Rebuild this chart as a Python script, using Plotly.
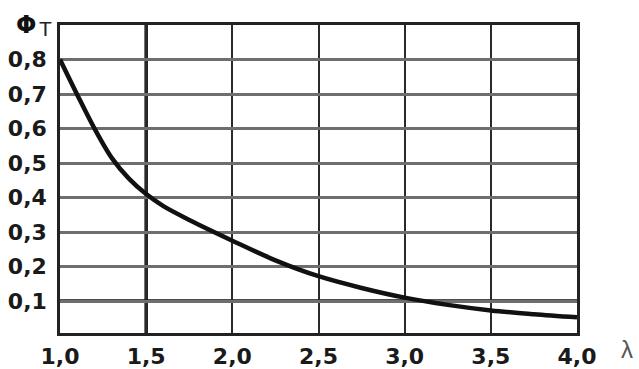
import plotly.graph_objects as go

# Curve Φ_T(λ)
lam = [1.0, 1.1, 1.2, 1.3, 1.4, 1.5, 1.6, 1.75, 2.0, 2.25, 2.5, 2.75, 3.0, 3.25, 3.5, 3.75, 4.0]
phi_t = [0.8, 0.698, 0.6, 0.515, 0.455, 0.41, 0.375, 0.335, 0.275, 0.218, 0.172, 0.138, 0.11, 0.089, 0.073, 0.062, 0.053]

# Axis ticks
x_ticks = [1.0, 1.5, 2.0, 2.5, 3.0, 3.5, 4.0]
x_labels = ["1,0", "1,5", "2,0", "2,5", "3,0", "3,5", "4,0"]
y_ticks = [0.1, 0.2, 0.3, 0.4, 0.5, 0.6, 0.7, 0.8]
y_labels = ["0,1", "0,2", "0,3", "0,4", "0,5", "0,6", "0,7", "0,8"]

# Emphasised grid lines
mark_x = [1.5]
mark_y = [0.1]

FONT = "DejaVu Sans, Arial, sans-serif"
TICK_FONT = dict(family=FONT, size=22, color="#1a1a1a", weight="bold")

fig = go.Figure()
fig.add_trace(go.Scatter(
    x=lam, y=phi_t, mode="lines",
    line=dict(color="#111111", width=4.5, shape="spline", smoothing=0.9),
    hoverinfo="skip", showlegend=False,
))

for v in mark_x:
    fig.add_vline(x=v, line=dict(color="#111111", width=3.5), layer="below")
for v in mark_y:
    fig.add_hline(y=v, line=dict(color="#111111", width=3.5), layer="below")

fig.update_xaxes(
    range=[1.0, 4.0], tickvals=x_ticks, ticktext=x_labels,
    showgrid=True, gridcolor="#2a2a2a", gridwidth=2,
    showline=True, mirror=True, linecolor="#222222", linewidth=2.5,
    ticks="", ticklabelstandoff=2, zeroline=False, automargin=False,
    tickfont=TICK_FONT,
)
fig.update_yaxes(
    range=[0.0075, 0.9], tickvals=y_ticks, ticktext=y_labels,
    showgrid=True, gridcolor="#6e6e6e", gridwidth=3,
    showline=True, mirror=True, linecolor="#222222", linewidth=2.5,
    ticks="", ticklabelstandoff=6, zeroline=False, automargin=False,
    tickfont=TICK_FONT,
)

# Axis titles: Φ with a lowered T, and λ beside the x tick labels
fig.add_annotation(
    text="Φ", xref="paper", yref="paper", x=-0.066, y=1.0,
    xanchor="center", yanchor="middle", showarrow=False,
    font=dict(family="DejaVu Sans, Arial, sans-serif", size=24, color="#111111", weight="bold"),
)
fig.add_annotation(
    text="T", xref="paper", yref="paper", x=-0.028, y=0.99,
    xanchor="center", yanchor="middle", showarrow=False,
    font=dict(family="Liberation Sans, Arial, sans-serif", size=21, color="#222222"),
)
fig.add_annotation(
    text="λ", xref="paper", yref="paper", x=1.0967, y=-0.055,
    xanchor="center", yanchor="middle", showarrow=False,
    font=dict(family="Liberation Sans, Arial, sans-serif", size=24, color="#555555"),
)

fig.update_layout(
    width=639, height=369,
    margin=dict(l=60, r=62, t=25, b=36),
    paper_bgcolor="white", plot_bgcolor="white",
)

fig.write_html("out.html")
